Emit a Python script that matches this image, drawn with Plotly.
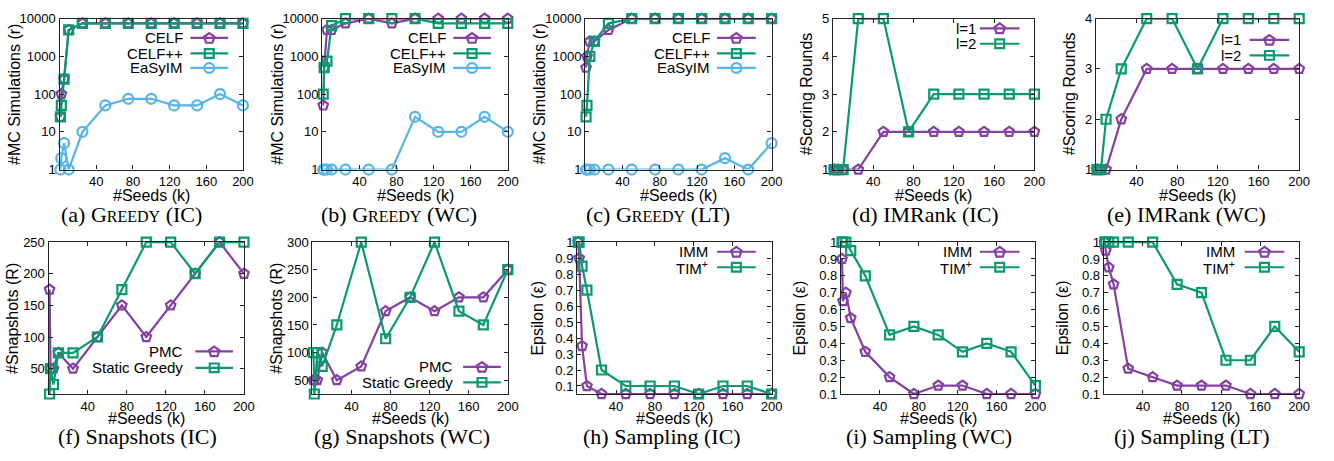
import math
import plotly.graph_objects as go

W, H = 1334, 461

# ---------------- data ----------------
seeds = [1, 2, 5, 10, 25, 50, 75, 100, 125, 150, 175, 200]
x_ticks = [40, 80, 120, 160, 200]

# (a) Greedy IC
a_celf = [25, 100, 250, 5000, 7500, 7500, 7500, 7500, 7500, 7500, 7500, 7500]
a_celfpp = [25, 50, 250, 5000, 7500, 7500, 7500, 7500, 7500, 7500, 7500, 7500]
a_easyim = [1, 2, 5, 1, 10, 50, 75, 75, 50, 50, 100, 50]
# (b) Greedy WC
b_celf = [50, 500, 5000, 5000, 7500, 10000, 7500, 10000, 10000, 10000, 10000, 10000]
b_celfpp = [100, 500, 750, 6500, 10000, 10000, 10000, 10000, 7500, 7500, 7500, 7500]
b_easyim = [1, 1, 1, 1, 1, 1, 1, 25, 10, 10, 25, 10]
# (c) Greedy LT
c_celf = [500, 1000, 2500, 2500, 5000, 10000, 10000, 10000, 10000, 10000, 10000, 10000]
c_celfpp = [25, 50, 1000, 2500, 7500, 10000, 10000, 10000, 10000, 10000, 10000, 10000]
c_easyim = [1, 1, 1, 1, 1, 1, 1, 1, 1, 2, 1, 5]
# (d) IMRank IC
d_l1 = [1, 1, 1, 1, 1, 2, 2, 2, 2, 2, 2, 2]
d_l2 = [1, 1, 1, 1, 5, 5, 2, 3, 3, 3, 3, 3]
# (e) IMRank WC
e_l1 = [1, 1, 1, 1, 2, 3, 3, 3, 3, 3, 3, 3]
e_l2 = [1, 1, 1, 2, 3, 4, 4, 3, 4, 4, 4, 4]
# (f) Snapshots IC
f_pmc = [175, 50, 50, 75, 50, 100, 150, 100, 150, 200, 250, 200]
f_sg = [10, 50, 25, 75, 75, 100, 175, 250, 250, 200, 250, 250]
# (g) Snapshots WC
g_pmc = [50, 50, 50, 100, 50, 75, 175, 200, 175, 200, 200, 250]
g_sg = [100, 25, 100, 75, 150, 300, 125, 200, 300, 175, 150, 250]
# (h) Sampling IC
h_imm = [1, 0.9, 0.35, 0.1, 0.05, 0.05, 0.05, 0.05, 0.05, 0.05, 0.05, 0.05]
h_tim = [1, 1, 0.85, 0.7, 0.2, 0.1, 0.1, 0.1, 0.05, 0.1, 0.1, 0.05]
# (i) Sampling WC
i_imm = [0.9, 0.65, 0.7, 0.55, 0.35, 0.2, 0.1, 0.15, 0.15, 0.1, 0.1, 0.1]
i_tim = [1, 1, 1, 0.95, 0.8, 0.45, 0.5, 0.45, 0.35, 0.4, 0.35, 0.15]
# (j) Sampling LT
j_imm = [1, 0.95, 0.85, 0.75, 0.25, 0.2, 0.15, 0.15, 0.15, 0.1, 0.1, 0.1]
j_tim = [1, 1, 1, 1, 1, 1, 0.75, 0.7, 0.3, 0.3, 0.5, 0.35]

log_ticks = [1, 10, 100, 1000, 10000]
eps_ticks = [0.1, 0.2, 0.3, 0.4, 0.5, 0.6, 0.7, 0.8, 0.9, 1.0]
eps_labels = ["0.1", "0.2", "0.3", "0.4", "0.5", "0.6", "0.7", "0.8", "0.9", "1"]

# ---------------- styles ----------------
PURPLE = "#8440A2"
GREEN = "#0B9A70"
BLUE = "#56B4E9"
SANS = "Liberation Sans, Arial, sans-serif"
SERIF = "Liberation Serif, Times New Roman, serif"
TICK_SIZE = 13
TITLE_SIZE = 16
LEG_SIZE = 15
CAP_SIZE = 22

SC = "<span style='font-size:16px'>REEDY</span>"

panels = [
    dict(box=(60, 245, 12, 168), ytype="log", yrange=[0, 4], yticks=log_ticks,
         ylabels=[str(v) for v in log_ticks], ytitle="#MC Simulations (r)", ytx=14,
         series=[("CELF", a_celf, PURPLE, "pentagon"), ("CELF++", a_celfpp, GREEN, "square"),
                 ("EaSyIM", a_easyim, BLUE, "circle")],
         leg=dict(tr=186, x0=192, x1=230, rows=[32, 48, 63]),
         cap="(a) G" + SC + " (IC)", capx=133),
    dict(box=(325, 512, 12, 168), ytype="log", yrange=[0, 4], yticks=log_ticks,
         ylabels=[str(v) for v in log_ticks], ytitle="#MC Simulations (r)", ytx=279,
         series=[("CELF", b_celf, PURPLE, "pentagon"), ("CELF++", b_celfpp, GREEN, "square"),
                 ("EaSyIM", b_easyim, BLUE, "circle")],
         leg=dict(tr=451, x0=457, x1=495, rows=[32, 48, 63]),
         cap="(b) G" + SC + " (WC)", capx=402),
    dict(box=(590, 778, 12, 168), ytype="log", yrange=[0, 4], yticks=log_ticks,
         ylabels=[str(v) for v in log_ticks], ytitle="#MC Simulations (r)", ytx=544,
         series=[("CELF", c_celf, PURPLE, "pentagon"), ("CELF++", c_celfpp, GREEN, "square"),
                 ("EaSyIM", c_easyim, BLUE, "circle")],
         leg=dict(tr=717, x0=723, x1=762, rows=[32, 48, 63]),
         cap="(c) G" + SC + " (LT)", capx=663),
    dict(box=(840, 1043, 12, 168), ytype="linear", yrange=[1, 5], yticks=[1, 2, 3, 4, 5],
         ylabels=["1", "2", "3", "4", "5"], ytitle="#Scoring Rounds", ytx=813,
         series=[("l=1", d_l1, PURPLE, "pentagon"), ("l=2", d_l2, GREEN, "square")],
         leg=dict(tr=985, x0=988, x1=1028, rows=[22, 38]),
         cap="(d) IMRank (IC)", capx=933),
    dict(box=(1105, 1310, 12, 168), ytype="linear", yrange=[1, 4], yticks=[1, 2, 3, 4],
         ylabels=["1", "2", "3", "4"], ytitle="#Scoring Rounds", ytx=1078,
         series=[("l=1", e_l1, PURPLE, "pentagon"), ("l=2", e_l2, GREEN, "square")],
         leg=dict(tr=1252, x0=1260, x1=1300, rows=[34, 50]),
         cap="(e) IMRank (WC)", capx=1196),
    dict(box=(49, 246, 243, 400), ytype="linear", yrange=[10, 250], yticks=[50, 100, 150, 200, 250],
         ylabels=["50", "100", "150", "200", "250"], ytitle="#Snapshots (R)", ytx=12,
         series=[("PMC", f_pmc, PURPLE, "pentagon"), ("Static Greedy", f_sg, GREEN, "square")],
         leg=dict(tr=186, x0=197, x1=235, rows=[356, 373]),
         cap="(f) Snapshots (IC)", capx=139),
    dict(box=(315, 512, 243, 400), ytype="linear", yrange=[25, 300], yticks=[50, 100, 150, 200, 250, 300],
         ylabels=["50", "100", "150", "200", "250", "300"], ytitle="#Snapshots (R)", ytx=278,
         series=[("PMC", g_pmc, PURPLE, "pentagon"), ("Static Greedy", g_sg, GREEN, "square")],
         leg=dict(tr=458, x0=467, x1=505, rows=[372, 388]),
         cap="(g) Snapshots (WC)", capx=405),
    dict(box=(582, 778, 243, 400), ytype="linear", yrange=[0.05, 1], yticks=eps_ticks,
         ylabels=eps_labels, ytitle="Epsilon (ε)", ytx=541,
         series=[("IMM", h_imm, PURPLE, "pentagon"), ("TIM<sup>+</sup>", h_tim, GREEN, "square")],
         leg=dict(tr=715, x0=723, x1=762, rows=[253, 269]),
         cap="(h) Sampling (IC)", capx=667),
    dict(box=(848, 1044, 243, 400), ytype="linear", yrange=[0.1, 1], yticks=eps_ticks,
         ylabels=eps_labels, ytitle="Epsilon (ε)", ytx=806,
         series=[("IMM", i_imm, PURPLE, "pentagon"), ("TIM<sup>+</sup>", i_tim, GREEN, "square")],
         leg=dict(tr=981, x0=988, x1=1028, rows=[253, 269]),
         cap="(i) Sampling (WC)", capx=937),
    dict(box=(1113, 1310, 243, 400), ytype="linear", yrange=[0.1, 1], yticks=eps_ticks,
         ylabels=eps_labels, ytitle="Epsilon (ε)", ytx=1071,
         series=[("IMM", j_imm, PURPLE, "pentagon"), ("TIM<sup>+</sup>", j_tim, GREEN, "square")],
         leg=dict(tr=1246, x0=1255, x1=1295, rows=[253, 269]),
         cap="(j) Sampling (LT)", capx=1202),
]


def px(x):
    return x / W


def py(y):
    return 1 - y / H


fig = go.Figure()
layout = dict(width=W, height=H, margin=dict(l=0, r=0, t=0, b=0),
              paper_bgcolor="white", plot_bgcolor="white", showlegend=False)
annotations = []
shapes = []

for i, p in enumerate(panels):
    n = i + 1
    xa = "xaxis" if n == 1 else f"xaxis{n}"
    ya = "yaxis" if n == 1 else f"yaxis{n}"
    xr = "x" if n == 1 else f"x{n}"
    yr = "y" if n == 1 else f"y{n}"
    l, r, t, b = p["box"]
    common = dict(showline=True, linecolor="#222222", linewidth=1.3, mirror="ticks",
                  ticks="inside", ticklen=4, tickcolor="#222222", tickwidth=1,
                  showgrid=False, zeroline=False,
                  tickfont=dict(family=SANS, size=TICK_SIZE, color="black"))
    layout[xa] = dict(domain=[px(l), px(r)], anchor=yr, range=[0, 200],
                      tickvals=x_ticks, ticktext=[str(v) for v in x_ticks], **common)
    layout[ya] = dict(domain=[py(b), py(t)], anchor=xr, type=p["ytype"], range=p["yrange"],
                      tickvals=p["yticks"], ticktext=p["ylabels"], **common)
    for name, vals, col, sym in p["series"]:
        fig.add_trace(go.Scatter(
            x=seeds, y=vals, name=name, mode="lines+markers", xaxis=xr, yaxis=yr,
            line=dict(color=col, width=2.2),
            marker=dict(symbol=sym + "-open", size=10 if sym != "square" else 9,
                        color=col, line=dict(color=col, width=2.2)),
            cliponaxis=False))
    row1 = t < 100
    # axis titles
    annotations.append(dict(x=px((l + r) / 2), y=py(195 if row1 else 425), xref="paper", yref="paper",
                            text="#Seeds (k)", showarrow=False, xanchor="center", yanchor="middle",
                            borderpad=0,
                            font=dict(family=SANS, size=TITLE_SIZE, color="black")))
    annotations.append(dict(x=px(p["ytx"]), y=py((t + b) / 2), xref="paper", yref="paper",
                            text=p["ytitle"], textangle=-90, showarrow=False,
                            xanchor="center", yanchor="middle", borderpad=0,
                            font=dict(family=SANS, size=TITLE_SIZE, color="black")))
    # caption
    annotations.append(dict(x=px(p["capx"]), y=py(214 if row1 else 444), xref="paper", yref="paper",
                            text=p["cap"], showarrow=False, xanchor="center", yanchor="middle",
                            borderpad=0,
                            font=dict(family=SERIF, size=CAP_SIZE, color="black")))
    # legend (gnuplot style: text then sample)
    lg = p["leg"]
    for (name, vals, col, sym), yy in zip(p["series"], lg["rows"]):
        annotations.append(dict(x=px(lg["tr"]), y=py(yy), xref="paper", yref="paper",
                                text=name, showarrow=False, xanchor="right", yanchor="middle",
                                borderpad=0,
                                font=dict(family=SANS, size=LEG_SIZE, color="black")))
        shapes.append(dict(type="line", xref="paper", yref="paper",
                           x0=px(lg["x0"]), x1=px(lg["x1"]), y0=py(yy), y1=py(yy),
                           line=dict(color=col, width=2.2)))
        cx = (lg["x0"] + lg["x1"]) / 2
        if sym == "square":
            s = 4.5
            shapes.append(dict(type="rect", xref="paper", yref="paper",
                               x0=px(cx - s), x1=px(cx + s), y0=py(yy + s), y1=py(yy - s),
                               line=dict(color=col, width=2.2), fillcolor="rgba(0,0,0,0)"))
        elif sym == "circle":
            s = 5
            shapes.append(dict(type="circle", xref="paper", yref="paper",
                               x0=px(cx - s), x1=px(cx + s), y0=py(yy + s), y1=py(yy - s),
                               line=dict(color=col, width=2.2), fillcolor="rgba(0,0,0,0)"))
        else:
            rad = 5.5
            pts = []
            for k in range(5):
                ang = -math.pi / 2 + k * 2 * math.pi / 5
                pts.append((cx + rad * math.cos(ang), yy + 0.5 + rad * math.sin(ang)))
            path = "M " + " L ".join(f"{px(a):.6f},{py(c):.6f}" for a, c in pts) + " Z"
            shapes.append(dict(type="path", xref="paper", yref="paper", path=path,
                               line=dict(color=col, width=2.2), fillcolor="rgba(0,0,0,0)"))

layout["annotations"] = annotations
layout["shapes"] = shapes
fig.update_layout(**layout)
fig.write_html("out.html")
